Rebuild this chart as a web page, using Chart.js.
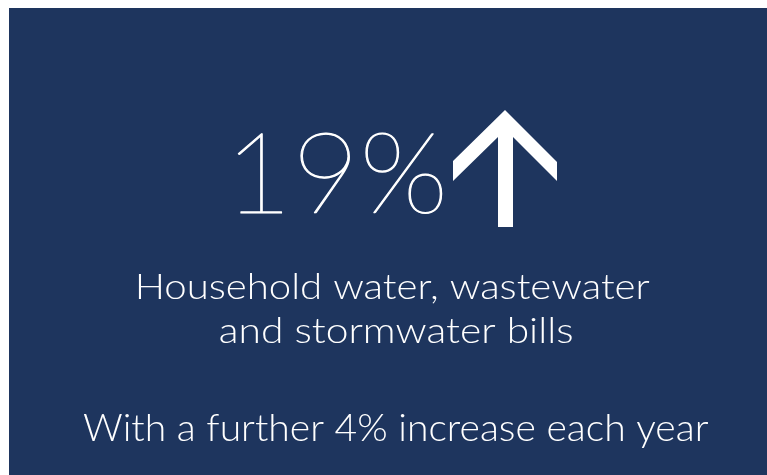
<!DOCTYPE html>
<html>
<head>
<meta charset="utf-8">
<script src="https://cdn.jsdelivr.net/npm/chart.js@4"></script>
<style>
  html, body { margin: 0; padding: 0; background: #ffffff; }
  #c { display: block; }
</style>
</head>
<body>
<canvas id="c" width="767" height="475"></canvas>
<script>
// ---- content ----
const headline = ["19%"];
const subtitleLines = ["Household water, wastewater", "and stormwater bills"];
const footnoteLines = ["With a further 4% increase each year"];

const PANEL = "#1e355e";
const TEXT = "#ffffff";

// draw text so that its ink spans [left, right] on the given baseline
function fitInk(ctx, text, font, left, right, baseline, strokeW) {
  ctx.save();
  ctx.font = font;
  ctx.textAlign = "left";
  ctx.textBaseline = "alphabetic";
  const m = ctx.measureText(text);
  const inkW = m.actualBoundingBoxLeft + m.actualBoundingBoxRight;
  ctx.translate(left, baseline);
  ctx.scale((right - left) / inkW, 1);
  ctx.fillText(text, m.actualBoundingBoxLeft, 0);
  if (strokeW) {
    ctx.strokeStyle = ctx.fillStyle;
    ctx.lineWidth = strokeW;
    ctx.lineJoin = "round";
    ctx.strokeText(text, m.actualBoundingBoxLeft, 0);
  }
  ctx.restore();
}

const infoPlugin = {
  id: "infographic",
  beforeDraw(chart) {
    const ctx = chart.ctx;
    ctx.save();
    ctx.fillStyle = "#ffffff";
    ctx.fillRect(0, 0, chart.width, chart.height);
    ctx.fillStyle = PANEL;
    ctx.fillRect(9, 8, chart.width - 9, chart.height - 8);
    ctx.restore();
  },
  afterDraw(chart) {
    const ctx = chart.ctx;
    ctx.save();
    ctx.fillStyle = TEXT;
    // headline
    fitInk(ctx, headline[0], "100 113px Lato", 238, 442, 213, 1.1);
    // arrow
    ctx.beginPath();
    ctx.moveTo(505, 110);
    ctx.lineTo(557, 162);
    ctx.lineTo(557, 181);
    ctx.lineTo(513, 137);
    ctx.lineTo(513, 227);
    ctx.lineTo(498, 227);
    ctx.lineTo(498, 137);
    ctx.lineTo(453, 181);
    ctx.lineTo(453, 161);
    ctx.closePath();
    ctx.fill();
    // subtitle
    fitInk(ctx, subtitleLines[0], "300 36px Lato", 138, 650, 299);
    fitInk(ctx, subtitleLines[1], "300 36px Lato", 220, 572, 343);
    // footnote
    fitInk(ctx, footnoteLines[0], "300 38px Lato", 83, 708, 441);
    ctx.restore();
  }
};

new Chart(document.getElementById("c"), {
  type: "scatter",
  data: { datasets: [] },
  options: {
    responsive: false,
    animation: false,
    devicePixelRatio: 1,
    plugins: { legend: { display: false }, tooltip: { enabled: false } },
    scales: { x: { display: false }, y: { display: false } }
  },
  plugins: [infoPlugin]
});
</script>
</body>
</html>
